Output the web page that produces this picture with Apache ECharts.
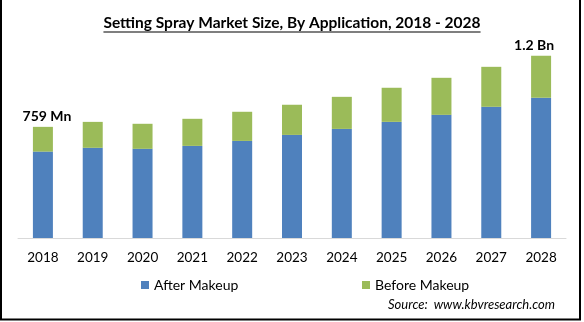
<!DOCTYPE html>
<html>
<head>
<meta charset="utf-8">
<script src="https://cdn.jsdelivr.net/npm/echarts@6/dist/echarts.min.js"></script>
<style>
  html, body { margin: 0; padding: 0; background: #ffffff; }
  #chart { width: 584px; height: 322px; }
</style>
</head>
<body>
<div id="chart"></div>
<script>
// Setting spray market size by application (USD Mn)
const years = ['2018', '2019', '2020', '2021', '2022', '2023', '2024', '2025', '2026', '2027', '2028'];
const afterMakeup = [590, 616, 609, 629, 663, 704, 745, 793, 841, 896, 958];
const beforeMakeup = [169, 177, 171, 185, 199, 206, 219, 233, 253, 273, 287];
const seriesNames = ['After Makeup', 'Before Makeup'];

const titleText = 'Setting Spray Market Size, By Application, 2018 - 2028';
const sourceText = 'Source:  www.kbvresearch.com';
const FONT = 'Lato, "Open Sans", sans-serif';

const totals = years.map((_, i) => afterMakeup[i] + beforeMakeup[i]);

function formatTotal(v) {
  return v >= 1000 ? (v / 1000).toFixed(1) + ' Bn' : Math.round(v) + ' Mn';
}

// Value labels only on the first and last year
const lastIdx = years.length - 1;
const labelOffsets = { 0: [4, 0], [lastIdx]: [-7, 0] };
const topData = beforeMakeup.map((v, i) => {
  if (i === 0 || i === lastIdx) {
    return {
      value: v,
      label: {
        show: true,
        position: 'top',
        distance: 3,
        offset: labelOffsets[i],
        formatter: () => formatTotal(totals[i]),
        fontFamily: FONT,
        fontWeight: 'bold',
        fontSize: 14,
        color: '#000000'
      }
    };
  }
  return v;
});

// Text measurement for the title underline and legend spacing
const ctx = document.createElement('canvas').getContext('2d');
const titleFont = 'bold 15.5px ' + FONT;
ctx.font = titleFont;
const titleW = ctx.measureText(titleText).width;
ctx.font = '14px ' + FONT;
const firstLegendW = ctx.measureText(seriesNames[0]).width;
const legendLeft = 136, iconSize = 8, iconTextGap = 5, secondIconX = 357;
const legendGap = secondIconX - (legendLeft + iconSize + iconTextGap + firstLegendW);
const W = 584;

const chart = echarts.init(document.getElementById('chart'), null, { renderer: 'canvas' });
chart.setOption({
  animation: false,
  backgroundColor: '#ffffff',
  grid: { left: 18, right: 18, top: 33, bottom: 84 },
  xAxis: {
    type: 'category',
    data: years,
    axisTick: { show: false },
    axisLine: { lineStyle: { color: '#D9D9D9', width: 1 } },
    axisLabel: { color: '#000000', fontFamily: FONT, fontSize: 13.5, margin: 13 }
  },
  yAxis: {
    type: 'value',
    min: 0,
    max: 1400,
    show: false,
    splitLine: { show: false }
  },
  legend: {
    data: seriesNames,
    left: legendLeft,
    top: 273,
    icon: 'rect',
    itemWidth: iconSize,
    itemHeight: iconSize,
    itemGap: legendGap,
    textStyle: { fontFamily: FONT, fontSize: 14, color: '#000000' }
  },
  series: [
    {
      name: seriesNames[0],
      type: 'bar',
      stack: 'total',
      barWidth: 20,
      itemStyle: { color: '#4F81BD' },
      data: afterMakeup
    },
    {
      name: seriesNames[1],
      type: 'bar',
      stack: 'total',
      barWidth: 20,
      itemStyle: { color: '#9BBB59' },
      data: topData
    }
  ],
  graphic: [
    // frame: left, right and bottom edges
    {
      type: 'polyline',
      shape: { points: [[1, 0], [1, 319.5], [580, 319.5], [580, 0]] },
      style: { fill: 'none', stroke: '#000000', lineWidth: 2 },
      silent: true
    },
    {
      type: 'text',
      x: W / 2,
      y: 30.5,
      style: {
        text: titleText,
        font: titleFont,
        fill: '#000000',
        align: 'center',
        verticalAlign: 'bottom'
      }
    },
    {
      type: 'line',
      shape: { x1: W / 2 - titleW / 2, y1: 32, x2: W / 2 + titleW / 2, y2: 32 },
      style: { stroke: '#000000', lineWidth: 1.2 }
    },
    {
      type: 'text',
      x: 555,
      y: 305,
      style: {
        text: sourceText,
        font: 'italic 13px ' + FONT,
        fill: '#000000',
        align: 'right',
        verticalAlign: 'middle'
      }
    }
  ]
});
</script>
</body>
</html>
